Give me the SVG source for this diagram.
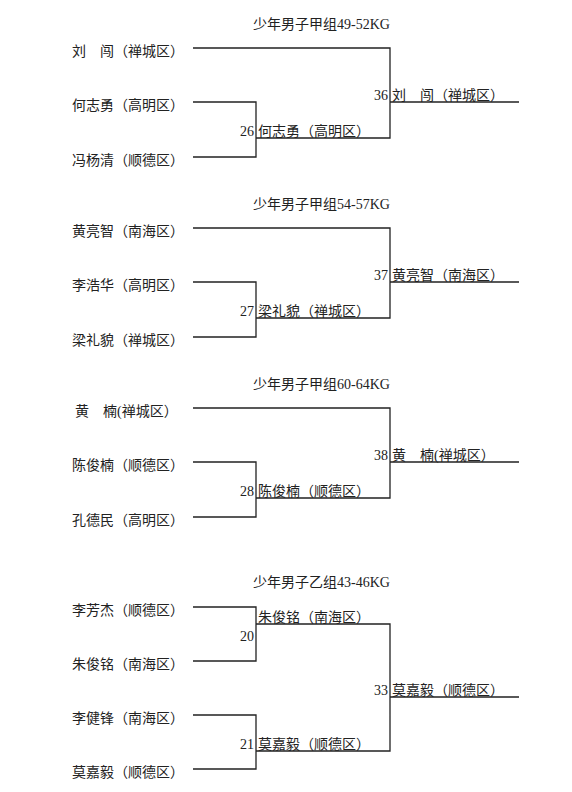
<svg xmlns="http://www.w3.org/2000/svg" width="572" height="792" viewBox="0 0 572 792">
<style>
text{font-family:"Liberation Serif","Noto Sans CJK SC",serif;font-size:14px;fill:#222}
.n{text-anchor:end}
.ln{fill:none;stroke:#222;stroke-width:1.3}
</style>
<rect width="572" height="792" fill="#fff"/>
<g id="titles">
<text x="253" y="29">少年男子甲组49-52KG</text>
<text x="253" y="209">少年男子甲组54-57KG</text>
<text x="253" y="389">少年男子甲组60-64KG</text>
<text x="253" y="587">少年男子乙组43-46KG</text>
</g>
<g id="connectors" class="ln">
<path d="M193,48H390V138H256M193,102H256V157H193M390,102H519"/>
<path d="M193,228H390V318H256M193,282H256V337H193M390,282H519"/>
<path d="M193,408H390V498H256M193,462H256V517H193M390,462H519"/>
<path d="M193,607H256V661H193M256,624H390V751H256M193,715H256V769H193M390,697H519"/>
</g>
<g id="s1">
<g id="p-liuchuang"><text x="72" y="56">刘　闯（禅城区）</text></g>
<g id="p-hezhiyong"><text x="72" y="110">何志勇（高明区）</text></g>
<g id="p-fengyangqing"><text x="72" y="165">冯杨清（顺德区）</text></g>
<g id="m26"><text class="n" x="254" y="136">26</text><text x="258" y="136">何志勇（高明区）</text></g>
<g id="m36"><text class="n" x="388" y="100">36</text><text x="392" y="100">刘　闯（禅城区）</text></g>
</g>
<g id="s2">
<g id="p-huangliangzhi"><text x="72" y="236">黄亮智（南海区）</text></g>
<g id="p-lihaohua"><text x="72" y="290">李浩华（高明区）</text></g>
<g id="p-lianglimao"><text x="72" y="345">梁礼貌（禅城区）</text></g>
<g id="m27"><text class="n" x="254" y="316">27</text><text x="258" y="316">梁礼貌（禅城区）</text></g>
<g id="m37"><text class="n" x="388" y="280">37</text><text x="392" y="280">黄亮智（南海区）</text></g>
</g>
<g id="s3">
<g id="p-huangnan"><text x="75" y="416">黄　楠(禅城区）</text></g>
<g id="p-chenjunnan"><text x="72" y="470">陈俊楠（顺德区）</text></g>
<g id="p-kongdemin"><text x="72" y="525">孔德民（高明区）</text></g>
<g id="m28"><text class="n" x="254" y="496">28</text><text x="258" y="496">陈俊楠（顺德区）</text></g>
<g id="m38"><text class="n" x="388" y="460">38</text><text x="392" y="460">黄　楠(禅城区）</text></g>
</g>
<g id="s4">
<g id="p-lifangjie"><text x="72" y="615">李芳杰（顺德区）</text></g>
<g id="p-zhujunming"><text x="72" y="669">朱俊铭（南海区）</text></g>
<g id="p-lijianfeng"><text x="72" y="723">李健锋（南海区）</text></g>
<g id="p-mojiayi"><text x="72" y="777">莫嘉毅（顺德区）</text></g>
<g id="m20"><text class="n" x="254" y="641">20</text><text x="258" y="622">朱俊铭（南海区）</text></g>
<g id="m21"><text class="n" x="254" y="749">21</text><text x="258" y="749">莫嘉毅（顺德区）</text></g>
<g id="m33"><text class="n" x="388" y="695">33</text><text x="392" y="695">莫嘉毅（顺德区）</text></g>
</g>
</svg>
